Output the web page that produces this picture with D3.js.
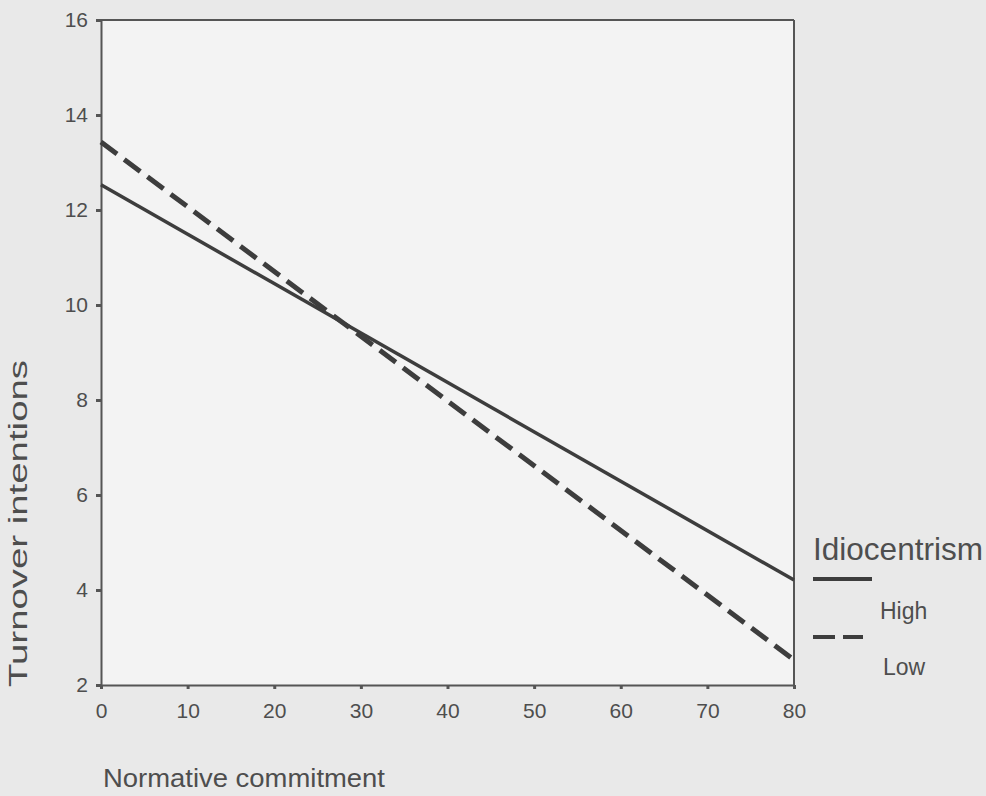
<!DOCTYPE html>
<html>
<head>
<meta charset="utf-8">
<script src="https://cdn.jsdelivr.net/npm/d3@7"></script>
<style>
  html, body { margin: 0; padding: 0; background: #e9e9e9; }
  svg { display: block; font-family: "Liberation Sans", Arial, sans-serif; }
</style>
</head>
<body>
<svg id="chart" width="986" height="796"></svg>
<script>
// x values: normative commitment at the two ends of each line
const xValues = [0, 80];
// turnover intentions
const highValues = [12.53, 4.21];
const lowValues = [13.43, 2.53];
const xTicks = [0, 10, 20, 30, 40, 50, 60, 70, 80];
const yTicks = [2, 4, 6, 8, 10, 12, 14, 16];
const seriesNames = ["High", "Low"];

const width = 986, height = 796;
const margins = [20, 192, 111, 101]; // top, right, bottom, left
const [mt, mr, mb, ml] = margins;
const ink = "#3d3d3d";
const textColor = "#4e4e4e";

const svg = d3.select("#chart");

svg.append("rect")
  .attr("width", width).attr("height", height)
  .attr("fill", "#e9e9e9");

const x = d3.scaleLinear().domain([0, 80]).range([ml, width - mr]);
const y = d3.scaleLinear().domain([2, 16]).range([height - mb, mt]);

// plot area, a bit lighter than the page
svg.append("rect")
  .attr("x", x(0)).attr("y", y(16))
  .attr("width", x(80) - x(0)).attr("height", y(2) - y(16))
  .attr("fill", "#f3f3f3");

// axes
const xAxis = svg.append("g")
  .attr("transform", `translate(0, ${y(2)})`)
  .call(d3.axisBottom(x).tickValues(xTicks).tickSize(4).tickPadding(14).tickSizeOuter(0));

const yAxis = svg.append("g")
  .attr("transform", `translate(${x(0)}, 0)`)
  .call(d3.axisLeft(y).tickValues(yTicks).tickSize(5).tickPadding(8).tickSizeOuter(0));

[xAxis, yAxis].forEach((g) => {
  g.select(".domain").attr("stroke", "#555").attr("stroke-width", 2);
  g.selectAll(".tick line").attr("stroke", "#555").attr("stroke-width", 3);
  g.selectAll(".tick text")
    .attr("fill", textColor)
    .style("font-size", "21px")
    .style("font-family", "Liberation Sans, Arial, sans-serif");
});

// top and right edges of the frame
svg.append("line")
  .attr("x1", x(0) - 5).attr("x2", x(80))
  .attr("y1", y(16)).attr("y2", y(16))
  .attr("stroke", "#555").attr("stroke-width", 2);
svg.append("line")
  .attr("x1", x(80)).attr("x2", x(80))
  .attr("y1", y(16)).attr("y2", y(2))
  .attr("stroke", "#555").attr("stroke-width", 2);

// lines
const line = d3.line()
  .x((d) => x(d[0]))
  .y((d) => y(d[1]));

svg.append("path")
  .datum(d3.zip(xValues, highValues))
  .attr("fill", "none")
  .attr("stroke", ink)
  .attr("stroke-width", 3.5)
  .attr("d", line);

svg.append("path")
  .datum(d3.zip(xValues, lowValues))
  .attr("fill", "none")
  .attr("stroke", ink)
  .attr("stroke-width", 5)
  .attr("stroke-dasharray", "20,9")
  .attr("d", line);

// axis titles
svg.append("text")
  .attr("transform", "translate(27, 687) rotate(-90)")
  .attr("text-anchor", "start")
  .attr("textLength", 327)
  .attr("lengthAdjust", "spacingAndGlyphs")
  .attr("fill", textColor)
  .style("font-size", "25px")
  .text("Turnover intentions");

svg.append("text")
  .attr("x", 103)
  .attr("y", 787)
  .attr("textLength", 282)
  .attr("lengthAdjust", "spacingAndGlyphs")
  .attr("fill", textColor)
  .style("font-size", "26px")
  .text("Normative commitment");

// legend
svg.append("text")
  .attr("x", 813)
  .attr("y", 560)
  .attr("textLength", 170)
  .attr("lengthAdjust", "spacingAndGlyphs")
  .attr("fill", textColor)
  .style("font-size", "32px")
  .text("Idiocentrism");

const legend = svg.append("g");
legend.append("line")
  .attr("x1", 813).attr("x2", 872)
  .attr("y1", 579).attr("y2", 579)
  .attr("stroke", ink).attr("stroke-width", 4);
legend.append("line")
  .attr("x1", 813).attr("x2", 863)
  .attr("y1", 637).attr("y2", 637)
  .attr("stroke", ink).attr("stroke-width", 4)
  .attr("stroke-dasharray", "22,8");

legend.append("text")
  .attr("x", 880).attr("y", 619)
  .attr("fill", textColor)
  .style("font-size", "23px")
  .text(seriesNames[0]);
legend.append("text")
  .attr("x", 883).attr("y", 675)
  .attr("fill", textColor)
  .style("font-size", "23px")
  .text(seriesNames[1]);
</script>
</body>
</html>
